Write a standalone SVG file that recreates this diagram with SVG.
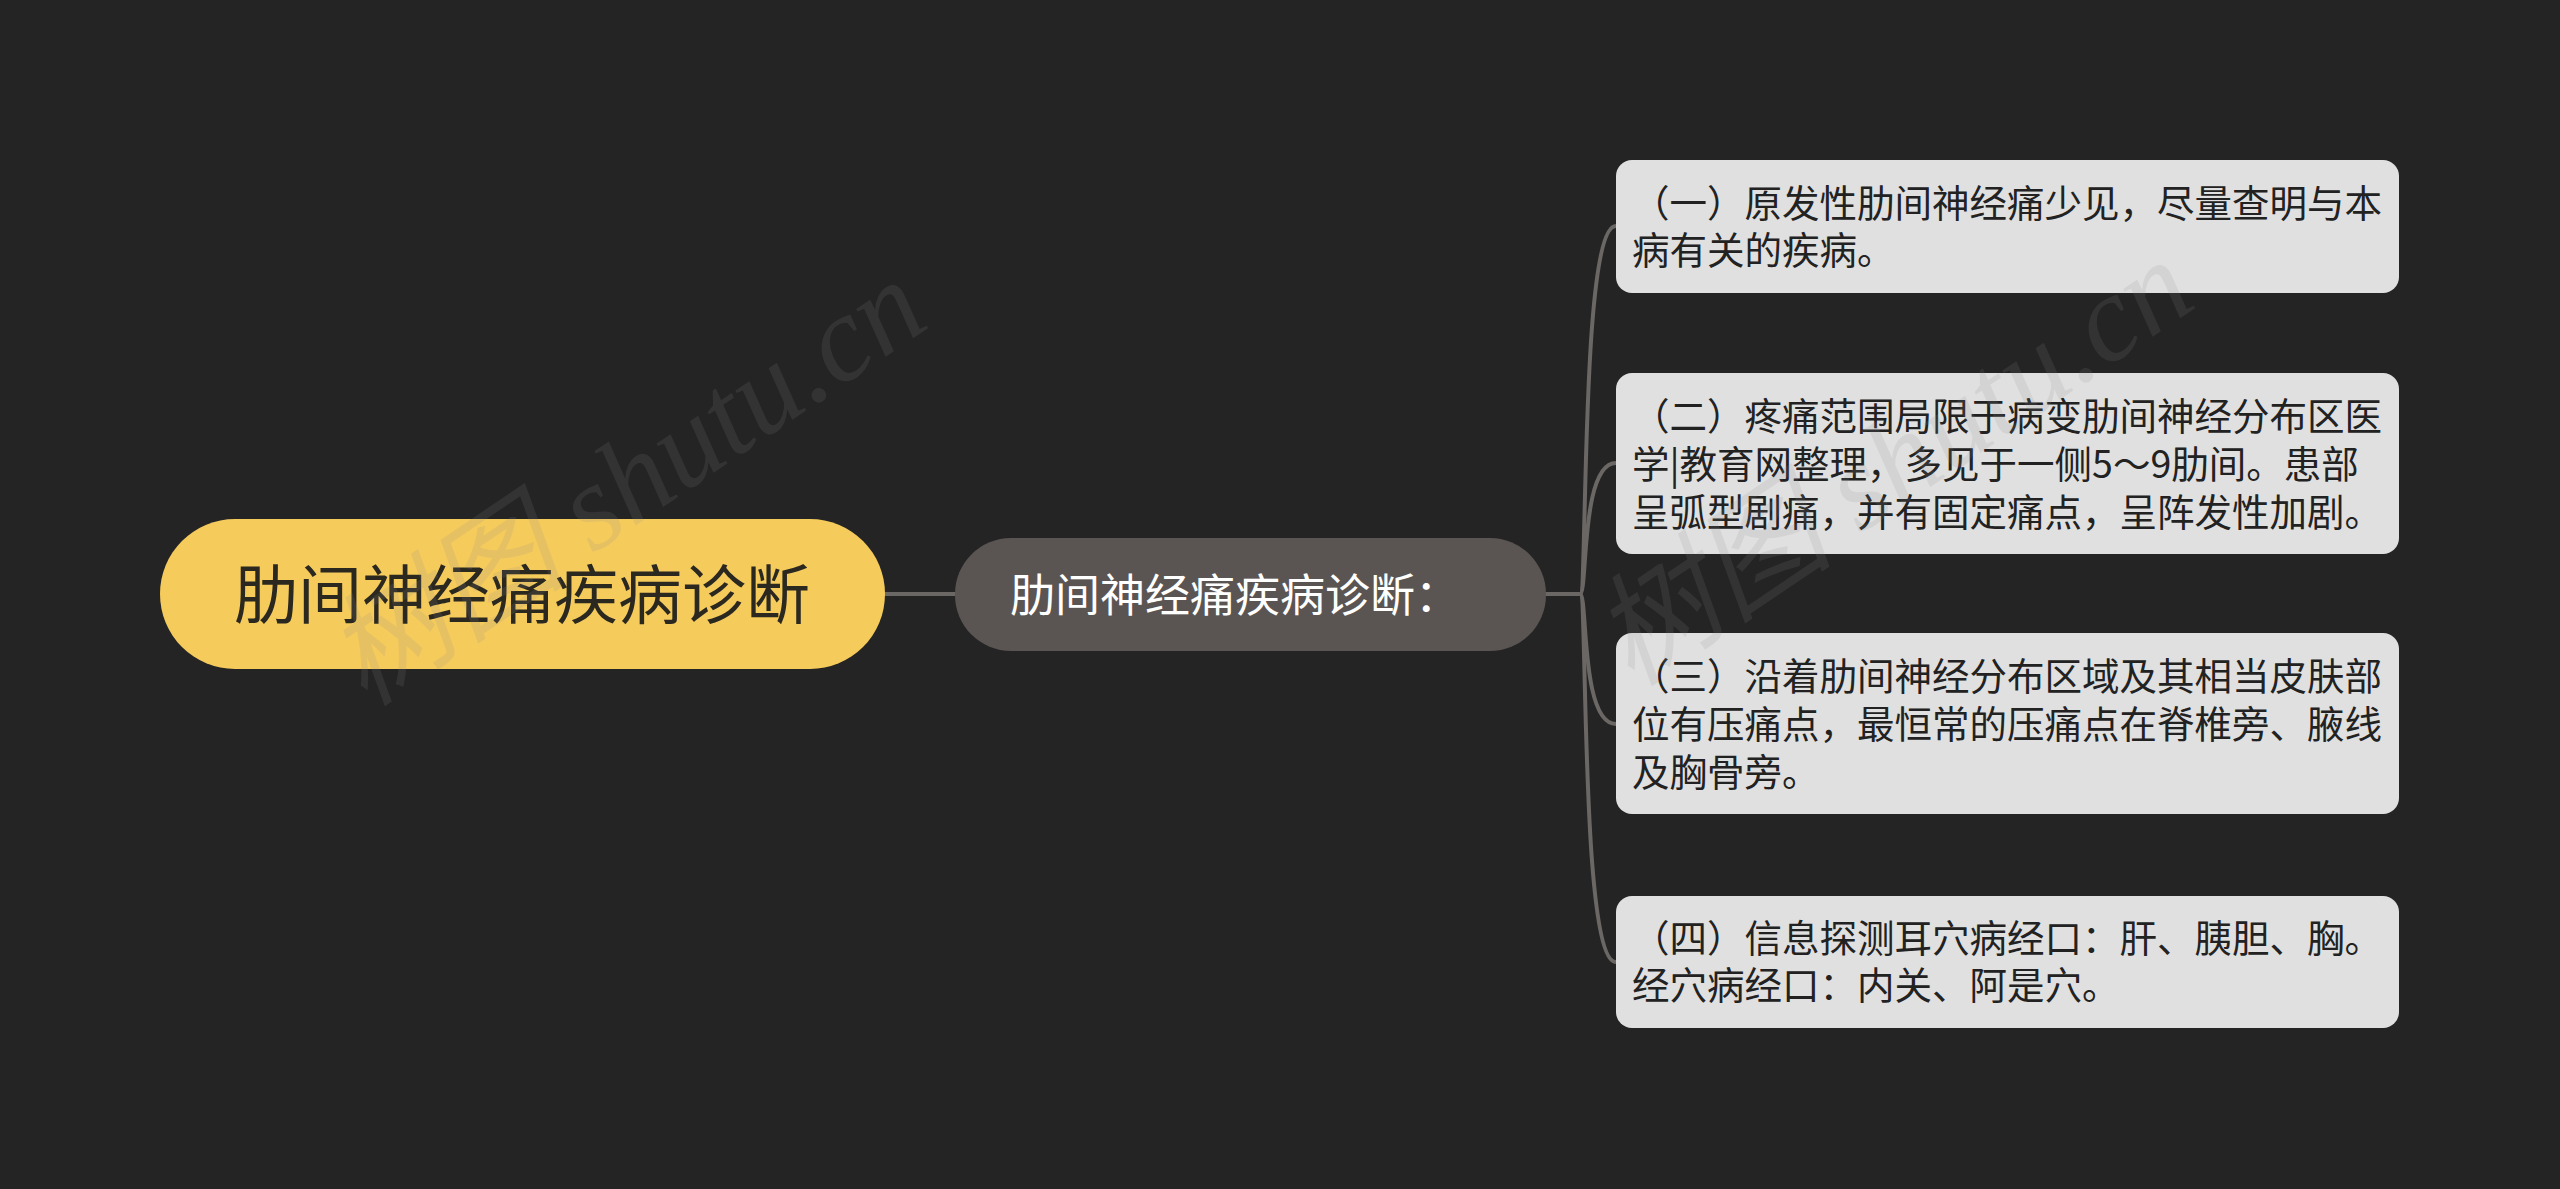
<svg xmlns="http://www.w3.org/2000/svg" width="2560" height="1189" viewBox="0 0 2560 1189">
  <style>
    .cjk { font-family: "Noto Sans CJK SC", "Noto Sans", sans-serif; }
    .root-text { font-size: 64px; fill: #2b2820; }
    .center-text { font-size: 45px; fill: #ffffff; }
    .leaf-box { fill: #e0e0e0; }
    .leaf-text { font-size: 37.5px; fill: #222222; }
    .conn { fill: none; stroke: #6a6765; stroke-width: 4; stroke-linecap: round; }
    .wm { font-family: "Liberation Serif", "Noto Sans CJK SC", serif; font-size: 122px; font-style: italic; fill: #8c8c8c; opacity: 0.15; }
  </style>
  <rect x="0" y="0" width="2560" height="1189" fill="#242424"/>

  <g id="connectors">
    <path class="conn" d="M885 594 L955 594"/>
    <path class="conn" d="M1546 594 L1580 594"/>
    <path class="conn" d="M1580 594 C1588 594 1580 226 1616 226"/>
    <path class="conn" d="M1580 594 C1588 594 1580 463 1616 463"/>
    <path class="conn" d="M1580 594 C1588 594 1580 724 1616 724"/>
    <path class="conn" d="M1580 594 C1588 594 1580 962 1616 962"/>
  </g>

  <g id="root">
    <rect x="160" y="519" width="725" height="150" rx="75" ry="75" fill="#f5cb5c"/>
    <text class="cjk root-text" x="522" y="618" text-anchor="middle">肋间神经痛疾病诊断</text>
  </g>

  <g id="center">
    <rect x="955" y="538" width="591" height="113" rx="56" ry="56" fill="#5a5553"/>
    <text class="cjk center-text" x="1010" y="612">肋间神经痛疾病诊断：</text>
  </g>

  <g id="leaf1">
    <rect class="leaf-box" x="1616" y="160" width="783" height="133" rx="16" ry="16"/>
    <text class="cjk leaf-text" x="1632" y="217">（一）原发性肋间神经痛少见，尽量查明与本</text>
    <text class="cjk leaf-text" x="1632" y="264">病有关的疾病。</text>
  </g>

  <g id="leaf2">
    <rect class="leaf-box" x="1616" y="373" width="783" height="181" rx="16" ry="16"/>
    <text class="cjk leaf-text" x="1632" y="430">（二）疼痛范围局限于病变肋间神经分布区医</text>
    <text class="cjk leaf-text" x="1632" y="478">学|教育网整理，多见于一侧5～9肋间。患部</text>
    <text class="cjk leaf-text" x="1632" y="526">呈弧型剧痛，并有固定痛点，呈阵发性加剧。</text>
  </g>

  <g id="leaf3">
    <rect class="leaf-box" x="1616" y="633" width="783" height="181" rx="16" ry="16"/>
    <text class="cjk leaf-text" x="1632" y="690">（三）沿着肋间神经分布区域及其相当皮肤部</text>
    <text class="cjk leaf-text" x="1632" y="738">位有压痛点，最恒常的压痛点在脊椎旁、腋线</text>
    <text class="cjk leaf-text" x="1632" y="786">及胸骨旁。</text>
  </g>

  <g id="leaf4">
    <rect class="leaf-box" x="1616" y="896" width="783" height="132" rx="16" ry="16"/>
    <text class="cjk leaf-text" x="1632" y="952">（四）信息探测耳穴病经口：肝、胰胆、胸。</text>
    <text class="cjk leaf-text" x="1632" y="999">经穴病经口：内关、阿是穴。</text>
  </g>

  <g id="watermarks">
    <text class="wm" transform="translate(365 708) rotate(-34)">树图 shutu.cn</text>
    <text class="wm" transform="translate(1632 688) rotate(-34)">树图 shutu.cn</text>
  </g>
</svg>
